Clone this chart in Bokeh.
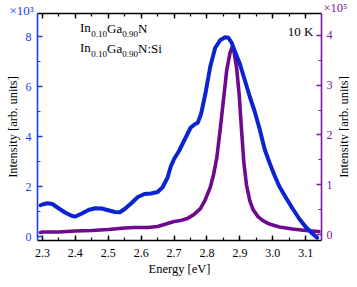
import math
from bokeh.plotting import figure
from bokeh.models import (Range1d, LinearAxis, SingleIntervalTicker, NumeralTickFormatter,
                          CustomJSTickFormatter, Label, Legend, LegendItem, Title)
from bokeh.embed import file_html
from bokeh.resources import INLINE

# ---------------- data ----------------
# In0.10Ga0.90N  (left axis, x10^3)
energy_ingan = [2.294, 2.30, 2.315, 2.33, 2.35, 2.37, 2.39, 2.40, 2.42, 2.44, 2.46, 2.48, 2.50,
                2.52, 2.535, 2.55, 2.57, 2.59, 2.61, 2.63, 2.65, 2.665, 2.68, 2.69, 2.70, 2.715,
                2.735, 2.75, 2.762, 2.772, 2.782, 2.795, 2.81, 2.825, 2.84, 2.855, 2.865, 2.875,
                2.885, 2.90, 2.915, 2.93, 2.945, 2.96, 2.975, 2.99, 3.005, 3.02, 3.04, 3.06,
                3.08, 3.10, 3.12, 3.135]
intensity_ingan = [1.25, 1.28, 1.33, 1.30, 1.12, 0.95, 0.82, 0.80, 0.92, 1.06, 1.13, 1.12, 1.05,
                   0.98, 0.97, 1.10, 1.33, 1.58, 1.70, 1.72, 1.78, 1.97, 2.35, 2.80, 3.10, 3.42,
                   3.95, 4.35, 4.48, 4.55, 4.90, 5.70, 6.80, 7.55, 7.85, 7.97, 7.95, 7.75,
                   7.40, 6.90, 6.25, 5.60, 5.00, 4.30, 3.50, 2.95, 2.45, 2.00, 1.55, 1.12,
                   0.72, 0.38, 0.12, -0.05]

# In0.10Ga0.90N:Si  (right axis, x10^5)
energy_ingan_si = [2.294, 2.30, 2.35, 2.40, 2.45, 2.50, 2.55, 2.58, 2.62, 2.65, 2.68, 2.70, 2.72,
                   2.74, 2.76, 2.78, 2.795, 2.81, 2.82, 2.83, 2.84, 2.85, 2.86, 2.87, 2.876,
                   2.882, 2.89, 2.898, 2.905, 2.912, 2.92, 2.93, 2.94, 2.955, 2.97, 2.99, 3.02,
                   3.06, 3.10, 3.14]
intensity_ingan_si = [0.04, 0.05, 0.05, 0.07, 0.08, 0.10, 0.13, 0.14, 0.14, 0.16, 0.22, 0.26, 0.28,
                      0.32, 0.40, 0.52, 0.70, 0.95, 1.20, 1.55, 2.10, 2.70, 3.30, 3.65, 3.76,
                      3.68, 3.35, 2.80, 2.10, 1.45, 1.00, 0.68, 0.50, 0.36, 0.28, 0.21, 0.15,
                      0.11, 0.08, 0.06]

x_label = "Energy [eV]"
y_label = "Intensity [arb. units]"
annot_temp = "10 K"
mult_left = "×10³"
mult_right = "×10⁵"

# ---------------- style ----------------
FONT = "Liberation Serif"
BLUE = "#0b24d0"
BLUE_AX = "#1c3ce6"
PURPLE = "#6f0a8e"
PURPLE_AX = "#7a1a9a"

W, H = 349, 279
FL, FR, FT, FB = 37, 323, 13, 240   # frame edges in figure px
FW, FH = FR - FL, FB - FT

p = figure(width=W, height=H, output_backend="svg", toolbar_location=None,
           x_range=Range1d(2.285, 3.148), y_range=Range1d(-0.16, 8.92),
           min_border_left=FL, min_border_right=W - FR, min_border_top=FT,
           min_border_bottom=H - FB)
p.extra_y_ranges = {"si": Range1d(-0.12, 4.44)}
p.xgrid.visible = False
p.ygrid.visible = False
p.outline_line_color = None
p.background_fill_color = "white"
p.border_fill_color = "white"


def style_axis(ax, color, label_color):
    ax.axis_line_color = color
    ax.axis_line_width = 1.6
    ax.major_tick_line_color = color
    ax.minor_tick_line_color = color
    ax.major_tick_line_width = 1.4
    ax.minor_tick_line_width = 1.2
    ax.major_tick_in = 5
    ax.major_tick_out = 0
    ax.minor_tick_in = 3
    ax.minor_tick_out = 0
    ax.major_label_text_font = FONT
    ax.major_label_text_font_size = "12px"
    ax.major_label_text_color = label_color
    ax.axis_label_text_font = FONT
    ax.axis_label_text_font_size = "12.5px"
    ax.axis_label_text_font_style = "normal"
    ax.axis_label_text_color = "black"


# bottom x axis
xa = p.xaxis[0]
xa.ticker = SingleIntervalTicker(interval=0.1, num_minor_ticks=2)
xa.formatter = NumeralTickFormatter(format="0.0")
style_axis(xa, "black", "black")
xa.axis_label = x_label
xa.major_label_standoff = 8
xa.axis_label_standoff = 2

# top x axis (ticks only)
xt = LinearAxis(ticker=SingleIntervalTicker(interval=0.1, num_minor_ticks=2),
                formatter=CustomJSTickFormatter(code="return ''"))
style_axis(xt, "black", "black")
xt.major_label_text_font_size = "0px"
xt.major_label_standoff = 0
p.add_layout(xt, "above")

# left y axis
ya = p.yaxis[0]
ya.ticker = SingleIntervalTicker(interval=2, num_minor_ticks=2)
style_axis(ya, BLUE_AX, BLUE_AX)
ya.axis_label = y_label
ya.major_label_standoff = 6
ya.axis_label_standoff = 3

# right y axis
yr = LinearAxis(y_range_name="si", ticker=SingleIntervalTicker(interval=1, num_minor_ticks=2))
style_axis(yr, PURPLE_AX, PURPLE_AX)
yr.major_label_standoff = 5
p.add_layout(yr, "right")

# right axis title, reading bottom-to-top like the left one, in its own side slot
p.add_layout(Label(x=8, y=FH / 2, x_units="screen", y_units="screen", text=y_label,
                   angle=math.pi / 2, text_font=FONT, text_font_size="12.5px",
                   text_color="black", text_align="center", text_baseline="middle"),
             "right")

# multipliers above the frame
t1 = Title(text=mult_left, align="left", offset=9 - FL, vertical_align="top", standoff=-13,
           text_font=FONT, text_font_size="13px", text_font_style="normal", text_color=BLUE_AX)
t2 = Title(text=mult_right, align="left", offset=323 - FL, vertical_align="top", standoff=-18,
           text_font=FONT, text_font_size="12.5px", text_font_style="normal", text_color=PURPLE_AX)
p.add_layout(t1, "above")
p.add_layout(t2, "above")

# ---------------- series ----------------
p.line(energy_ingan_si, intensity_ingan_si, y_range_name="si", line_color=PURPLE,
       line_width=3.6, line_cap="round", line_join="round")
p.line(energy_ingan, intensity_ingan, line_color=BLUE, line_width=4,
       line_cap="round", line_join="round")

# legend (swatches from empty scatter renderers); the label starts the rich name
leg_b = p.scatter(x=[], y=[], size=5, fill_color=BLUE, line_color=BLUE)
leg_p = p.scatter(x=[], y=[], size=5, fill_color=PURPLE, line_color=PURPLE, y_range_name="si")
M, S = 13, 9
legend = Legend(items=[LegendItem(label="In", renderers=[leg_b]),
                       LegendItem(label="In", renderers=[leg_p])],
                location=(18, FH - 5 - 40), orientation="vertical",
                border_line_color=None, background_fill_alpha=0,
                padding=0, margin=0, spacing=0, glyph_width=10, glyph_height=20,
                label_height=20, label_width=0, label_standoff=15,
                label_text_font=FONT, label_text_font_size=f"{M}px",
                label_text_color="black")
p.add_layout(legend, "center")

# ---------------- texts ----------------
ADV = {"I": 0.333, "n": 0.5, "G": 0.722, "a": 0.444, "N": 0.722, ":": 0.278, "S": 0.556,
       "i": 0.278, ".": 0.25, " ": 0.25, "K": 0.722}


def tw(s, size):
    return sum(ADV.get(c, 0.5) for c in s) * size


def rich(pieces, x0, yc, color):
    x = x0
    for txt, size, dy in pieces:
        p.add_layout(Label(x=x, y=yc + dy, x_units="screen", y_units="screen", text=txt,
                           text_font=FONT, text_font_size=f"{size}px", text_color=color,
                           text_baseline="middle", text_align="left"))
        x += tw(txt, size)


rest1 = [("0.10", S, -5), ("Ga", M, 0), ("0.90", S, -5), ("N", M, 0)]
rest2 = [("0.10", S, -5), ("Ga", M, 0), ("0.90", S, -5), ("N:Si", M, 0)]
x_name = 80 - FL + tw("In", M)
rich(rest1, x_name, FB - 28, "black")
rich(rest2, x_name, FB - 48, "black")

# temperature
p.add_layout(Label(x=313 - FL, y=FB - 30.7, x_units="screen", y_units="screen",
                   text=annot_temp, text_font=FONT, text_font_size="13px",
                   text_color="black", text_align="right", text_baseline="alphabetic"))

open("out.html", "w").write(file_html(p, INLINE))
